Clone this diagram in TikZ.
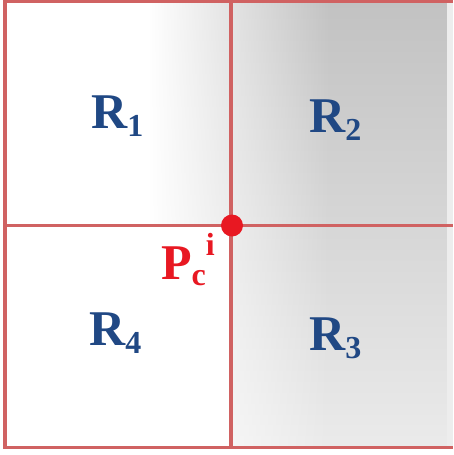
\documentclass[tikz,border=0pt]{standalone}
\usepackage{fontspec}
\setmainfont{Liberation Serif}
\usepackage{tikz}
\usetikzlibrary{positioning,fadings}
\definecolor{gridred}{RGB}{208,98,98}
\definecolor{pointred}{RGB}{232,24,34}
\definecolor{regionblue}{RGB}{32,72,132}
\tikzfading[name=whitefade,left color=transparent!0,right color=transparent!100]
\newcommand{\regionname}[1]{R\raisebox{-8pt}{\fontsize{32}{32}\selectfont #1}}
\tikzset{
  gridline/.style={draw=gridred,line width=3.5pt},
  regionlabel/.style={
    font=\fontsize{50}{50}\selectfont\bfseries,text=regionblue,
    inner sep=0pt,anchor=base west
  },
  pointlabel/.style={regionlabel,text=pointred},
  centerdot/.style={circle,fill=pointred,minimum size=22pt,inner sep=0pt},
  backshade/.style={top color=black!24,bottom color=black!8}
}

\begin{document}
\begin{tikzpicture}[x=1pt,y=-1pt]
  \useasboundingbox (0,0) rectangle (453,455);
  \fill[backshade] (150,0) rectangle (447,448);
  \fill[white,path fading=whitefade] (149,0) rectangle (330,448);
  \fill[white] (0,225) rectangle (231,455);
  \fill[black!7] (447,0) rectangle (453,448);
  \coordinate (topleft) at (5,1.5);
  \coordinate (topright) at (453,1.5);
  \coordinate (botleft) at (5,447.5);
  \coordinate (botright) at (453,447.5);
  \coordinate (topmid) at (231,1.5);
  \coordinate (botmid) at (231,447.5);
  \coordinate (leftmid) at (5,225.5);
  \coordinate (rightmid) at (453,225.5);
  \draw[gridline] (topright) -- (topleft) -- (botleft) -- (botright);
  \draw[gridline] (topmid) -- (botmid);
  \draw[gridline] (leftmid) -- (rightmid);
  \node[centerdot] (pc) at (232,225.5) {};
  \node[regionlabel] (r1) at (91,128) {\regionname{1}};
  \node[regionlabel] (r2) at (309,132) {\regionname{2}};
  \node[regionlabel] (r3) at (309,350) {\regionname{3}};
  \node[regionlabel] (r4) at (89,345) {\regionname{4}};
  \node[pointlabel] (pclabel) at (161,279) {%
    P\raisebox{-6pt}{\fontsize{32}{32}\selectfont c}%
    \raisebox{24pt}{\fontsize{32}{32}\selectfont i}};
\end{tikzpicture}
\end{document}
